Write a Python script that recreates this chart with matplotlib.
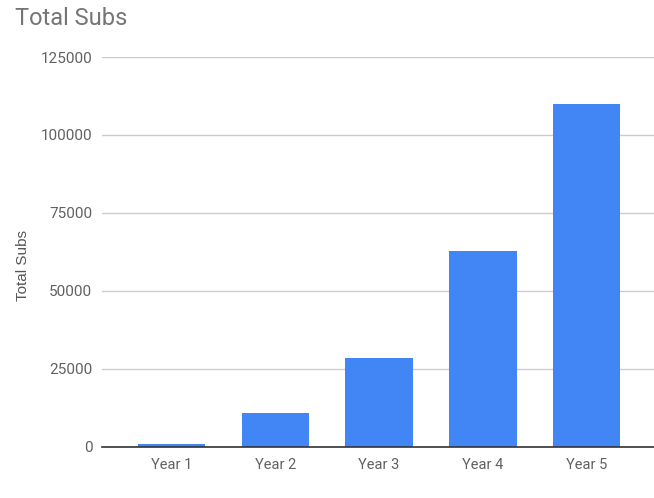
import matplotlib.pyplot as plt
import numpy as np

# data to plot
years = ['Year 1', 'Year 2', 'Year 3', 'Year 4', 'Year 5']
total_subs = [900, 10700, 28400, 62700, 110000]
y_ticks = [0, 25000, 50000, 75000, 100000, 125000]

fig = plt.figure(figsize=(6.54, 4.98), dpi=100)
ax = fig.add_axes([0.156, 0.1034, 0.844, 0.7821])

index = np.arange(len(years))
ax.bar(index, total_subs, 0.65, color='#4285F4', zorder=3)

ax.set_xlim(-0.67, 4.65)
ax.set_ylim(0, 125000)
ax.set_yticks(y_ticks)
ax.set_yticklabels([str(t) for t in y_ticks], fontfamily='Roboto', fontsize=11, color='#616161')
ax.set_xticks(index)
ax.set_xticklabels(years, fontfamily='Roboto', fontsize=10.5, color='#616161')
ax.tick_params(axis='both', length=0)
ax.tick_params(axis='y', pad=7)
ax.tick_params(axis='x', pad=8)

ax.grid(axis='y', color='#cccccc', linewidth=1, zorder=0)
for side in ['top', 'right', 'left']:
    ax.spines[side].set_visible(False)
ax.spines['bottom'].set_color('#333333')
ax.spines['bottom'].set_linewidth(1.2)
ax.spines['bottom'].set_zorder(4)

ax.set_ylabel('Total Subs', fontfamily='Liberation Sans', fontsize=11, color='#555555')
ax.yaxis.set_label_coords(-0.131, 0.466)
fig.text(0.023, 0.962, 'Total Subs', fontfamily='Roboto', fontsize=17, color='#757575', va='center', ha='left')

plt.savefig('out.png', dpi=100)
